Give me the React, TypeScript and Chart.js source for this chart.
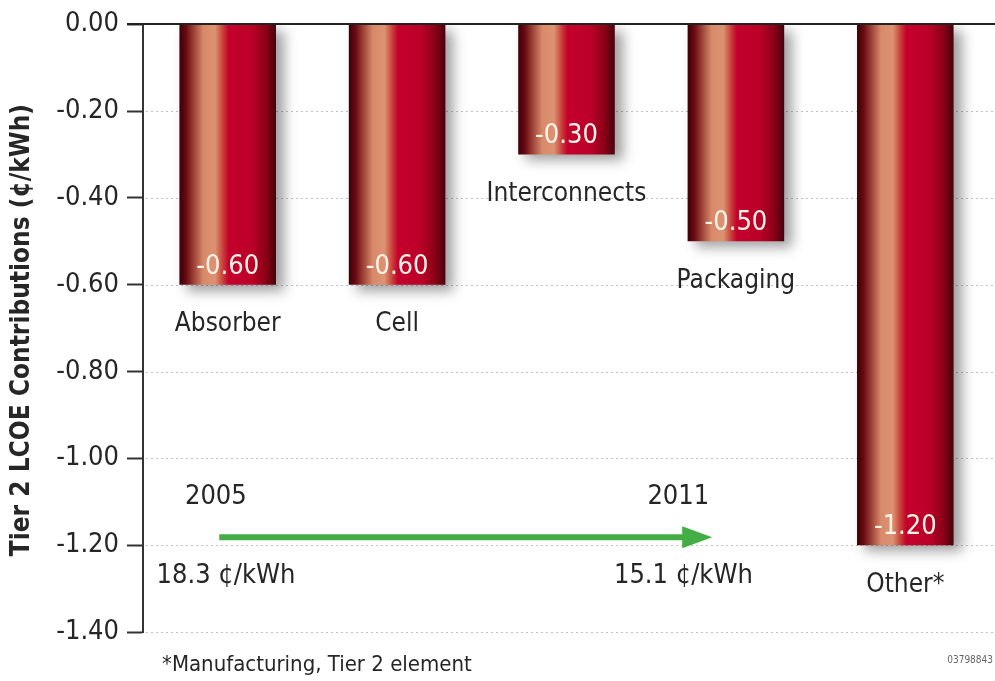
import React, { useEffect, useRef } from "react";
import { Chart, registerables } from "chart.js";

Chart.register(...registerables);

const categories = ["Absorber", "Cell", "Interconnects", "Packaging", "Other*"];
const values = [-0.6, -0.6, -0.3, -0.5, -1.2];
const valueLabels = ["-0.60", "-0.60", "-0.30", "-0.50", "-1.20"];
const yTicks = [0, -0.2, -0.4, -0.6, -0.8, -1.0, -1.2, -1.4];
const yTitle = "Tier 2 LCOE Contributions (¢/kWh)";
const startYear = "2005";
const endYear = "2011";
const startCost = "18.3 ¢/kWh";
const endCost = "15.1 ¢/kWh";
const footnote = "*Manufacturing, Tier 2 element";
const figureId = "03798843";

const FONT = "'Liberation Sans Narrow', 'DejaVu Sans Condensed', 'Liberation Sans', sans-serif";
const TEXT = "#262626";
const BAR_PCT = 0.57;

function barGradient(c: any) {
  const chart = c.chart;
  const xs = chart.scales && chart.scales.x;
  if (!xs || !chart.chartArea || c.dataIndex === undefined) return "#b8002a";
  const cx = xs.getPixelForValue(c.dataIndex);
  const w = (xs.width / categories.length) * BAR_PCT;
  const g = chart.ctx.createLinearGradient(cx - w / 2, 0, cx + w / 2, 0);
  g.addColorStop(0, "#3a0006");
  g.addColorStop(0.07, "#6a0a12");
  g.addColorStop(0.16, "#a44a3c");
  g.addColorStop(0.25, "#d88a6a");
  g.addColorStop(0.37, "#dc9372");
  g.addColorStop(0.45, "#c8403a");
  g.addColorStop(0.51, "#c4002c");
  g.addColorStop(0.75, "#bb0028");
  g.addColorStop(0.9, "#880016");
  g.addColorStop(1, "#46000a");
  return g;
}

const decoPlugin = {
  id: "deco",
  beforeDatasetsDraw(chart: any) {
    const { ctx, chartArea: a, scales } = chart;
    const y = scales.y;
    ctx.save();
    ctx.strokeStyle = "#c2c2c2";
    ctx.lineWidth = 1.2;
    ctx.setLineDash([2, 3]);
    for (const t of yTicks) {
      if (t === 0) continue;
      const py = Math.round(y.getPixelForValue(t)) + 0.5;
      ctx.beginPath();
      ctx.moveTo(a.left + 3, py);
      ctx.lineTo(chart.width, py);
      ctx.stroke();
    }
    ctx.restore();
  },
  beforeDatasetDraw(chart: any) {
    const ctx = chart.ctx;
    ctx.save();
    ctx.shadowColor = "rgba(0,0,0,0.38)";
    ctx.shadowBlur = 12;
    ctx.shadowOffsetX = 8;
    ctx.shadowOffsetY = 6;
  },
  afterDatasetDraw(chart: any) {
    chart.ctx.restore();
  },
  afterDatasetsDraw(chart: any) {
    const { ctx, chartArea: a, scales } = chart;
    const x = scales.x;
    const y = scales.y;
    ctx.save();
    // zero line
    const y0 = Math.round(y.getPixelForValue(0));
    ctx.strokeStyle = "#222";
    ctx.lineWidth = 2;
    ctx.beginPath();
    ctx.moveTo(a.left - 16, y0);
    ctx.lineTo(chart.width, y0);
    ctx.stroke();

    // value labels and category labels
    ctx.textAlign = "center";
    ctx.textBaseline = "middle";
    values.forEach((v, i) => {
      const px = x.getPixelForValue(i);
      const py = y.getPixelForValue(v);
      ctx.fillStyle = "#fff4ea";
      ctx.font = `27px ${FONT}`;
      ctx.fillText(valueLabels[i], px, py - 18);
      ctx.fillStyle = TEXT;
      ctx.font = `26px ${FONT}`;
      ctx.fillText(categories[i], px, py + 40);
    });

    // timeline annotation
    const ax1 = x.getPixelForValue(-0.05);
    const ax2 = x.getPixelForValue(2.86);
    const ay = y.getPixelForValue(-1.182);
    ctx.strokeStyle = "#45ad45";
    ctx.fillStyle = "#45ad45";
    ctx.lineWidth = 6;
    ctx.beginPath();
    ctx.moveTo(ax1, ay);
    ctx.lineTo(ax2 - 24, ay);
    ctx.stroke();
    ctx.beginPath();
    ctx.moveTo(ax2, ay);
    ctx.lineTo(ax2 - 30, ay - 11);
    ctx.lineTo(ax2 - 30, ay + 11);
    ctx.closePath();
    ctx.fill();

    ctx.fillStyle = TEXT;
    ctx.font = `27px ${FONT}`;
    ctx.fillText(startYear, x.getPixelForValue(-0.07), y.getPixelForValue(-1.09));
    ctx.fillText(endYear, x.getPixelForValue(2.66), y.getPixelForValue(-1.09));
    ctx.fillText(startCost, x.getPixelForValue(-0.01), y.getPixelForValue(-1.27));
    ctx.fillText(endCost, x.getPixelForValue(2.69), y.getPixelForValue(-1.27));

    // footnote
    ctx.textAlign = "left";
    ctx.font = `22px ${FONT}`;
    ctx.fillText(footnote, a.left + 19, a.bottom + 33);
    ctx.textAlign = "right";
    ctx.fillStyle = "#666";
    ctx.font = `10px ${FONT}`;
    ctx.fillText(figureId, chart.width - 2, a.bottom + 28);

    // y title
    ctx.translate(22, (a.top + a.bottom) / 2 + 2);
    ctx.rotate(-Math.PI / 2);
    ctx.textAlign = "center";
    ctx.fillStyle = TEXT;
    ctx.font = `bold 26px ${FONT}`;
    ctx.fillText(yTitle, 0, 0);
    ctx.restore();
  },
};

export default function App() {
  const ref = useRef<HTMLCanvasElement | null>(null);
  useEffect(() => {
    if (!ref.current) return;
    const chart = new Chart(ref.current, {
      type: "bar",
      data: {
        labels: categories,
        datasets: [
          {
            data: values,
            backgroundColor: barGradient as any,
            borderWidth: 0,
            barPercentage: BAR_PCT,
            categoryPercentage: 1,
          },
        ],
      },
      options: {
        animation: false,
        responsive: false,
        devicePixelRatio: 1,
        layout: { padding: { left: 0, top: 24, right: 5, bottom: 49 } },
        plugins: { legend: { display: false }, tooltip: { enabled: false }, title: { display: false } },
        scales: {
          x: { type: "category", display: false, grid: { display: false } },
          y: {
            min: -1.4,
            max: 0,
            afterFit: (s: any) => {
              s.width = 143;
            },
            ticks: {
              stepSize: 0.2,
              padding: 8,
              color: TEXT,
              font: { family: FONT, size: 27 },
              callback: (v: any) => Number(v).toFixed(2),
            },
            grid: {
              display: true,
              drawOnChartArea: false,
              drawTicks: true,
              tickLength: 16,
              tickColor: "#333",
              tickWidth: 2,
            },
            border: { display: true, color: "#333", width: 2 },
          },
        },
      },
      plugins: [decoPlugin],
    });
    return () => chart.destroy();
  }, []);
  return (
    <div style={{ position: "fixed", left: 0, top: 0, width: 995, height: 681, background: "#fff" }}>
      <canvas ref={ref} width={995} height={681} />
    </div>
  );
}
